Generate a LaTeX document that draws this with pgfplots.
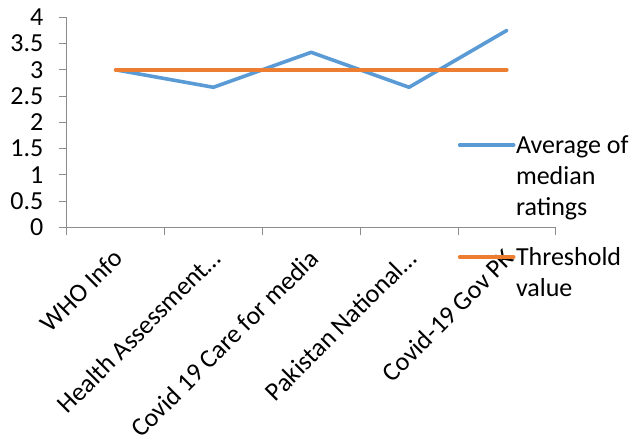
\documentclass[border=0pt]{standalone}
\usepackage{pgfplots}
\pgfplotsset{compat=1.18}
\usepackage{fontspec}
\setmainfont{Carlito}
\definecolor{seriesblue}{HTML}{5B9BD5}
\definecolor{seriesorange}{HTML}{ED7D31}
\definecolor{axisgray}{HTML}{8C8C8C}
\begin{document}
\fontsize{26bp}{31bp}\selectfont
\begin{tikzpicture}
\begin{axis}[
  scale only axis,
  width=489bp, height=210bp,
  xmin=0, xmax=5,
  ymin=0, ymax=4,
  ytick={0,0.5,...,4},
  xtick={0,1,2,3,4,5},
  x tick label as interval,
  xticklabels={WHO Info, Health Assessment…, Covid 19 Care for media, Pakistan National…, Covid-19 Gov PK},
  axis x line*=bottom,
  axis y line*=left,
  axis line style={axisgray, line width=0.8bp, -},
  tick style={axisgray, line width=0.8bp},
  tick align=outside,
  major tick length=8bp,
  /pgf/number format/assume math mode=true,
  tick label style={font=\fontsize{26bp}{31bp}\selectfont, text=black},
  yticklabel style={xshift=-6.5bp},
  xticklabel style={xshift=-4bp, yshift=-12bp, rotate=45, anchor=north east, inner sep=0pt},
  clip=false,
  legend style={
    at={(axis description cs:0.800,0.449)}, anchor=north west,
    draw=none, fill=none, inner sep=0pt, outer sep=0pt,
    font=\fontsize{26bp}{31bp}\selectfont,
    row sep=0pt, column sep=0.5bp,
    nodes={anchor=base west, inner sep=0pt, text height=20bp, text depth=11bp},
  },
  legend image code/.code={\draw[#1] (0bp,8bp) -- (54bp,8bp);},
]
\addplot[seriesblue, line width=3.6bp, line join=round, line cap=round]
  coordinates {(0.5,3) (1.5,2.667) (2.5,3.333) (3.5,2.667) (4.5,3.75)};
\addlegendentry{Average of}
\addlegendimage{empty legend}
\addlegendentry{median}
\addlegendimage{empty legend}
\addlegendentry[text depth=30bp]{ratings}
\addplot[seriesorange, line width=3.6bp, line cap=round]
  coordinates {(0.5,3) (1.5,3) (2.5,3) (3.5,3) (4.5,3)};
\addlegendentry{Threshold}
\addlegendimage{empty legend}
\addlegendentry{value}
\end{axis}
\pgfresetboundingbox
\path[use as bounding box] (-66.7bp,-219.7bp) rectangle (568.3bp,227.3bp);
\end{tikzpicture}
\end{document}
